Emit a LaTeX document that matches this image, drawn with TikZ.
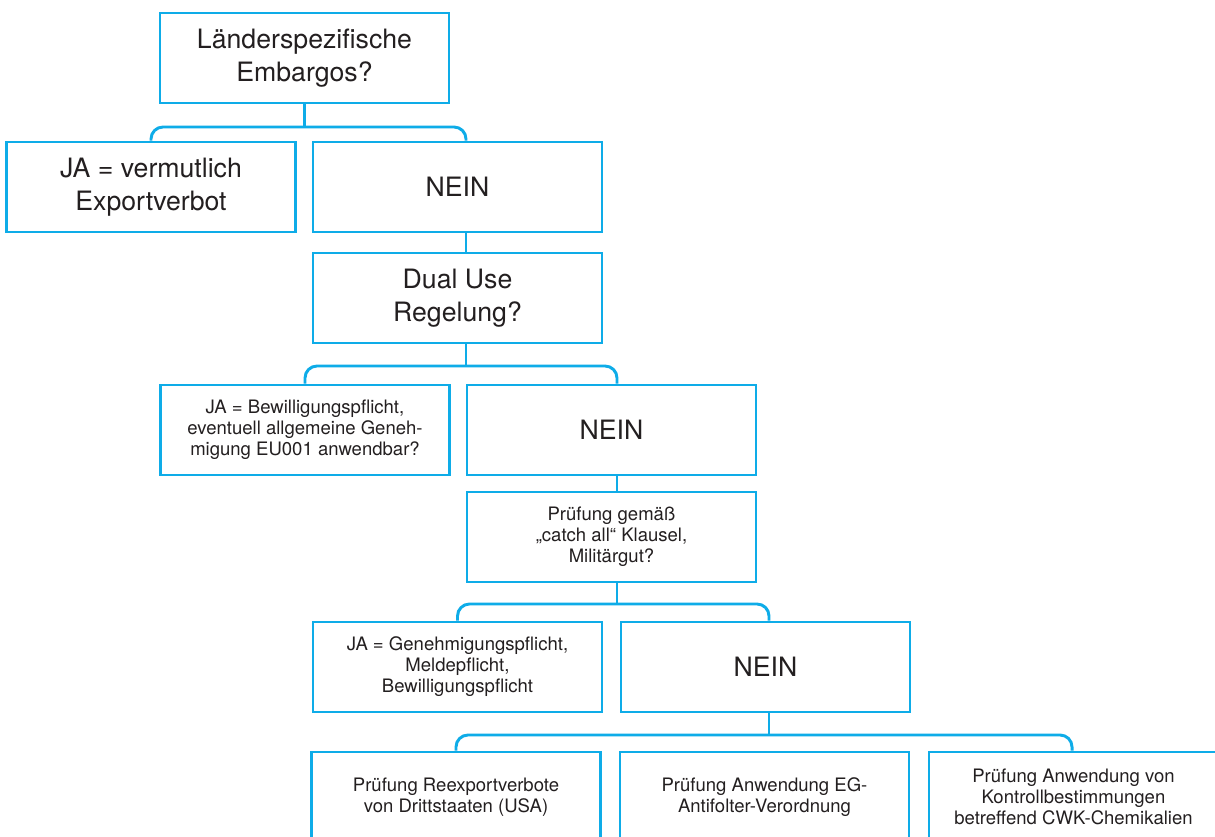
\documentclass[tikz,border=0pt]{standalone}
\usepackage{fontspec}
\setmainfont{TeX Gyre Heros}
\definecolor{cy}{RGB}{14,172,232}
\definecolor{tx}{RGB}{35,31,32}
\begin{document}
\begin{tikzpicture}[x=0.75pt,y=-0.75pt,
  box/.style={draw=cy, line width=2.2pt, minimum width=216.75pt, minimum height=67.5pt, inner sep=0pt, align=center, text=tx},
  big/.style={font=\fontsize{20}{24.75}\selectfont},
  small/.style={font=\fontsize{13.9}{15.75}\selectfont},
  conn/.style={draw=cy, line width=2.2pt, rounded corners=9pt}]
\clip (0,0) rectangle (1215,837);
\fill[white] (0,0) rectangle (1215,837);
% boxes
\node[box,big] (A) at (304.5,58) {Länderspezifische\\Embargos?};
\node[box,big] (B) at (151,187) {JA = vermutlich\\Exportverbot};
\node[box,big] (C) at (457.5,187) {NEIN};
\node[box,big] (D) at (457.5,298) {Dual Use\\Regelung?};
\node[box,small] (E) at (305,430) {JA = Bewilligungspflicht,\\eventuell allgemeine Geneh-\\migung EU001 anwendbar?};
\node[box,big] (F) at (611.5,430) {NEIN};
\node[box,small] (G) at (611.5,537) {Prüfung gemäß\\„catch all“ Klausel,\\Militärgut?};
\node[box,small] (H) at (457.5,667) {JA = Genehmigungspflicht,\\Meldepflicht,\\Bewilligungspflicht};
\node[box,big] (I) at (765.5,667) {NEIN};
\node[box,small] (J) at (456,797) {Prüfung Reexportverbote\\von Drittstaaten (USA)};
\node[box,small] (K) at (764.5,797) {Prüfung Anwendung EG-\\Antifolter-Verordnung};
\node[box,small] (L) at (1073.5,797) {Prüfung Anwendung von\\Kontrollbestimmungen\\betreffend CWK-Chemikalien};
% bracket corners
\coordinate (b1) at (466,127);
\coordinate (b2) at (617,366);
\coordinate (b3) at (769,604);
\coordinate (b4) at (769,735);
% connectors
\draw[conn] (A.south) -- (A.south |- b1);
\draw[conn] (B.north) |- (b1) -- (C.north -| b1);
\draw[conn] (C.south -| b1) -- (D.north -| b1);
\draw[conn] (D.south -| b1) -- (b1 |- b2);
\draw[conn] (E.north) |- (b2) -- (F.north -| b2);
\draw[conn] (F.south -| b2) -- (G.north -| b2);
\draw[conn] (G.south -| b2) -- (b2 |- b3);
\draw[conn] (H.north) |- (b3) -- (I.north -| b3);
\draw[conn] (I.south -| b4) -- (b4);
\draw[conn] (J.north) -- (J.north |- b4) -- ([xshift=-1.1pt]L.north |- b4) -- ([xshift=-1.1pt]L.north);
\end{tikzpicture}
\end{document}
